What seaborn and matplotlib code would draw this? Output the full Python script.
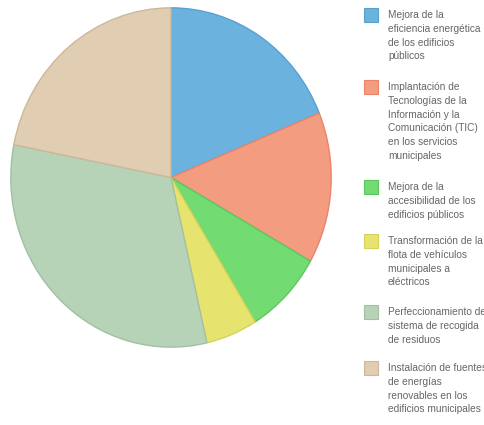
import matplotlib.pyplot as plt
import seaborn as sns
from matplotlib.patches import Rectangle

sns.set_theme(style='white')
plt.rcParams['font.family'] = ['Liberation Sans', 'DejaVu Sans']

labels = [
    'Mejora de la\neficiencia energética\nde los edificios\npúblicos',
    'Implantación de\nTecnologías de la\nInformación y la\nComunicación (TIC)\nen los servicios\nmunicipales',
    'Mejora de la\naccesibilidad de los\nedificios públicos',
    'Transformación de la\nflota de vehículos\nmunicipales a\neléctricos',
    'Perfeccionamiento del\nsistema de recogida\nde residuos',
    'Instalación de fuentes\nde energías\nrenovables en los\nedificios municipales',
]
values = [18.8, 14.4, 8.0, 5.2, 31.7, 21.9]
colors = ['#6cb2df', '#f39c80', '#72dc72', '#e6e46f', '#b7d3b7', '#e1cdb2']
edges = ['#5a9fd0', '#e8856a', '#5cc85c', '#d6d35a', '#a3c0a3', '#cdb89c']

W, H = 485, 425
fig = plt.figure(figsize=(W / 100, H / 100), dpi=100)
ax = fig.add_axes([10 / W, (H - 348) / H, 322 / W, 341 / H])
wedges, _ = ax.pie(values, colors=colors, startangle=90, counterclock=False,
                   wedgeprops=dict(linewidth=1))
for w, e in zip(wedges, edges):
    w.set_edgecolor(e)
ax.set_aspect('auto')
ax.set_xlim(-1.005, 1.005)
ax.set_ylim(-1.005, 1.005)

# legend drawn by hand: square + wrapped text
tops = [8, 80, 180, 234, 305, 361]
line_h = 13.8
for top, lab, c, e in zip(tops, labels, colors, edges):
    fig.patches.append(Rectangle((364 / W, 1 - (top + 14) / H), 14 / W, 14 / H,
                                 transform=fig.transFigure, facecolor=c,
                                 edgecolor=e, linewidth=0.8))
    for i, line in enumerate(lab.split('\n')):
        fig.text(388 / W, 1 - (top + 7 + i * line_h) / H, line,
                 fontsize=7.3, color='#666666', va='center', ha='left')

fig.savefig('out.png', dpi=100)
